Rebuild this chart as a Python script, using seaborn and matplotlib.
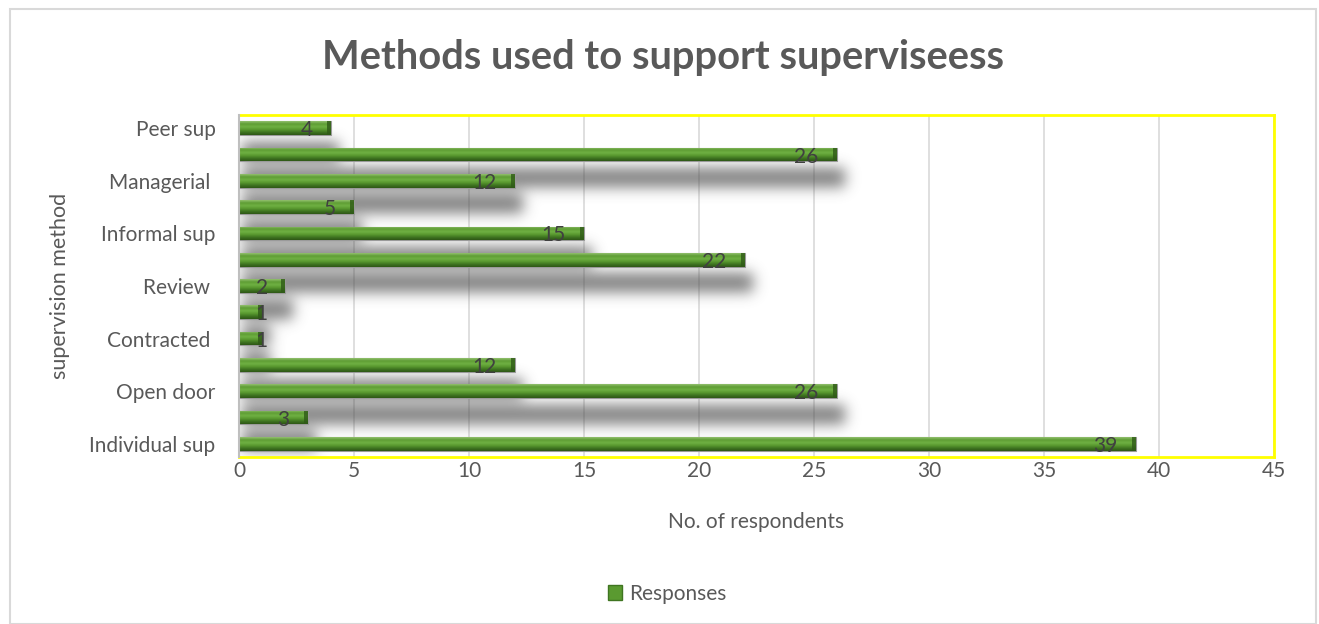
import numpy as np
import pandas as pd
import matplotlib
matplotlib.use("Agg")
import matplotlib.pyplot as plt
import matplotlib.patches as mpatches
from matplotlib.colors import LinearSegmentedColormap
import seaborn as sns

# Supervision methods, listed top to bottom; Excel-style axis shows every other name
methods = ["Peer sup", "Group sup", "Managerial ", "Ad hoc", "Informal sup", "Reflective",
           "Review ", "Case discussion", "Contracted ", "Clinical", "Open door", "Team",
           "Individual sup"]
responses = [4, 26, 12, 5, 15, 22, 2, 1, 1, 12, 26, 3, 39]
x_ticks = [0, 5, 10, 15, 20, 25, 30, 35, 40, 45]

df = pd.DataFrame({"Method": methods, "Responses": responses})

sns.set_theme(style="white")
plt.rcParams["font.family"] = ["Lato", "DejaVu Sans"]

TEXT = "#595959"
W, H = 1319, 624
fig = plt.figure(figsize=(W / 100, H / 100), dpi=100)
ax = fig.add_axes([239 / W, 1 - 457 / H, (1274 - 239) / W, (457 - 115) / H])

sns.barplot(data=df, x="Responses", y="Method", order=methods, orient="h",
            color="#5a9a30", width=0.52, ax=ax, zorder=3)

n = len(methods)
ax.set_xlim(0, 45)
ax.set_ylim(n - 0.5, -0.5)
ax.set_xticks(x_ticks)
ax.set_xticklabels([str(t) for t in x_ticks], color=TEXT, fontsize=15)
ax.set_yticks(range(n))
ax.set_yticklabels([m if i % 2 == 0 else "" for i, m in enumerate(methods)],
                   color=TEXT, fontsize=15)
ax.tick_params(axis="both", length=0)
ax.tick_params(axis="y", pad=17)
ax.tick_params(axis="x", pad=3)
ax.xaxis.grid(True, color="#d9d9d9", linewidth=1.2, zorder=0)
ax.set_axisbelow(True)

for side in ["top", "right", "bottom"]:
    ax.spines[side].set_color("#ffff00")
    ax.spines[side].set_linewidth(2)
ax.spines["left"].set_color("#bfbfbf")
ax.spines["left"].set_linewidth(1.5)
ax.spines["left"].set_zorder(5)

ax.set_xlabel("No. of respondents", color=TEXT, fontsize=15, labelpad=22)
ax.set_ylabel("supervision method", color=TEXT, fontsize=15.5, labelpad=14)

# Soft drop shadow under each bar, built from the bar geometry and blurred
nx, ny = 1035, 342
shadow = np.zeros((ny, nx))
px_per_x = nx / 45.0
px_per_y = ny / n
bars = list(ax.patches)
for p in bars:
    x0, y0, w, h = p.get_x(), p.get_y(), p.get_width(), p.get_height()
    dy, dx, grow = 0.88, 0.15, 0.1
    c0 = int(round((x0 + dx) * px_per_x))
    c1 = int(round((x0 + w + dx + 0.2) * px_per_x))
    r0 = int(round((y0 - grow + dy + 0.5) * px_per_y))
    r1 = int(round((y0 + h + grow + dy + 0.5) * px_per_y))
    shadow[max(r0, 0):min(r1, ny), max(c0, 0):min(c1, nx)] = 1.0

def blur(a, sigma):
    k = np.arange(-3 * sigma, 3 * sigma + 1)
    g = np.exp(-0.5 * (k / sigma) ** 2)
    g /= g.sum()
    a = np.apply_along_axis(lambda r: np.convolve(r, g, mode="same"), 1, a)
    a = np.apply_along_axis(lambda c: np.convolve(c, g, mode="same"), 0, a)
    return a

shadow = blur(shadow, 7)
rgba = np.zeros((ny, nx, 4))
rgba[..., :3] = 0.3
rgba[..., 3] = np.clip(shadow * 0.72, 0, 1)
ax.imshow(rgba, extent=(0, 45, n - 0.5, -0.5), aspect="auto",
          zorder=2, interpolation="bilinear")

# Bevelled green fill: vertical gradient clipped to each bar
bar_cmap = LinearSegmentedColormap.from_list(
    "bevel", ["#93c06f", "#5e9d34", "#6fb043", "#5a9a30", "#3f7521", "#2e5716"])
grad = np.linspace(0, 1, 64).reshape(-1, 1)
for p, v in zip(bars, responses):
    x0, y0, w, h = p.get_x(), p.get_y(), p.get_width(), p.get_height()
    p.set_edgecolor("#9a9a9a")
    p.set_linewidth(0.8)
    im = ax.imshow(grad, cmap=bar_cmap, extent=(x0, x0 + w, y0 + h, y0),
                   aspect="auto", zorder=3.5, interpolation="bilinear")
    im.set_clip_path(p)
    end = mpatches.Rectangle((x0 + w - 0.17, y0), 0.17, h, facecolor="#2f5a17",
                             edgecolor="none", alpha=0.8, zorder=3.6)
    ax.add_patch(end)
    if v > 2:
        ax.text(v - 0.8, y0 + h / 2 + 0.08, str(v), ha="right", va="center",
                fontsize=15, color="#404040", zorder=4)
    else:
        ax.text(0.72, y0 + h / 2 + 0.08, str(v), ha="left", va="center",
                fontsize=15, color="#404040", zorder=4)

ax.set_xlim(0, 45)
ax.set_ylim(n - 0.5, -0.5)

fig.text(663 / W, 1 - 58 / H, "Methods used to support superviseess", ha="center",
         va="center", fontsize=28.7, fontweight="bold", color=TEXT)

handle = mpatches.Patch(facecolor="#5a9a30", edgecolor="#3f7521", label="Responses")
fig.legend(handles=[handle], loc="center", bbox_to_anchor=(667 / W, 1 - 594 / H),
           frameon=False, fontsize=15, handlelength=0.7, handleheight=0.7,
           handletextpad=0.3, labelcolor=TEXT)

fig.patches.append(mpatches.Rectangle((10 / W, 0), 1 - 13 / W, 1 - 9 / H,
                                      transform=fig.transFigure, fill=False,
                                      edgecolor="#d9d9d9", linewidth=1.5))

fig.savefig("out.png", dpi=100, facecolor="white")
